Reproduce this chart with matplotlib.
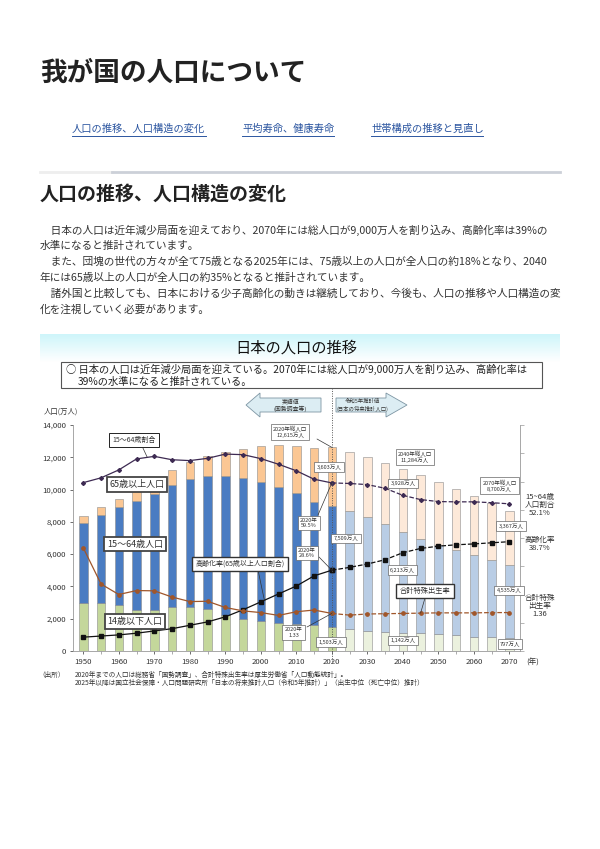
import matplotlib.pyplot as plt
from matplotlib.patches import Polygon, Rectangle
from matplotlib.lines import Line2D
import numpy as np

plt.rcParams['font.family'] = ['Noto Sans CJK JP', 'DejaVu Sans']

# --- data (万人, %, 合計特殊出生率) ---
years = [1950, 1955, 1960, 1965, 1970, 1975, 1980, 1985, 1990, 1995, 2000, 2005, 2010,
         2015, 2020, 2025, 2030, 2035, 2040, 2045, 2050, 2055, 2060, 2065, 2070]
pop_0_14 = [2979, 2980, 2843, 2553, 2515, 2722, 2751, 2603, 2249, 2001, 1847, 1752, 1680,
            1589, 1503, 1363, 1240, 1169, 1142, 1103, 1041, 966, 893, 840, 797]
pop_15_64 = [4966, 5473, 6047, 6744, 7212, 7581, 7883, 8251, 8590, 8716, 8622, 8409, 8103,
             7629, 7509, 7310, 7076, 6722, 6213, 5832, 5540, 5307, 5078, 4809, 4535]
pop_65 = [411, 475, 535, 624, 739, 887, 1065, 1247, 1489, 1826, 2204, 2576, 2925,
          3347, 3603, 3653, 3696, 3773, 3928, 3945, 3888, 3777, 3644, 3508, 3367]
ratio_15_64 = [59.6, 61.3, 64.1, 68.0, 68.9, 67.7, 67.4, 68.2, 69.7, 69.5, 68.1, 66.1, 63.8,
               60.8, 59.5, 59.3, 58.9, 57.6, 55.1, 53.6, 52.9, 52.8, 52.8, 52.5, 52.1]
aging_rate = [4.9, 5.3, 5.7, 6.3, 7.1, 7.9, 9.1, 10.3, 12.1, 14.6, 17.4, 20.2, 23.0,
              26.6, 28.6, 29.6, 30.8, 32.3, 34.8, 36.3, 37.1, 37.6, 37.9, 38.3, 38.7]
fertility = [3.65, 2.37, 2.00, 2.14, 2.13, 1.91, 1.75, 1.76, 1.54, 1.42, 1.36, 1.26, 1.39,
             1.45, 1.33, 1.27, 1.31, 1.32, 1.33, 1.34, 1.35, 1.35, 1.35, 1.36, 1.36]
last_actual = 2020

W, H = 600, 849


def fx(x):
    return x / W


def fy(y):
    return 1 - y / H


fig = plt.figure(figsize=(6, 8.49), dpi=100)


def ftext(x, y, s, size, **kw):
    kw.setdefault('color', '#333333')
    kw.setdefault('va', 'center')
    return fig.text(fx(x), fy(y), s, fontsize=size, **kw)


# --- page header ---
ftext(40, 73, '我が国の人口について', 19.2, weight='bold', color='#222222')
links = [('人口の推移、人口構造の変化', 72, 206), ('平均寿命、健康寿命', 242, 334),
         ('世帯構成の推移と見直し', 371, 483)]
for s, x0, x1 in links:
    ftext(x0, 129, s, 7.4, color='#2b55a0')
    fig.add_artist(Line2D([fx(x0), fx(x1)], [fy(135.5)] * 2, color='#2b55a0', lw=0.7))

fig.add_artist(Line2D([fx(40), fx(112)], [fy(172)] * 2, color='#eeeeee', lw=2))
fig.add_artist(Line2D([fx(112), fx(560)], [fy(172)] * 2, color='#ccd0d8', lw=2))
ftext(40, 194, '人口の推移、人口構造の変化', 13.7, weight='bold', color='#222222')

para = ['　日本の人口は近年減少局面を迎えており、2070年には総人口が9,000万人を割り込み、高齢化率は39%の',
        '水準になると推計されています。',
        '　また、団塊の世代の方々が全て75歳となる2025年には、75歳以上の人口が全人口の約18%となり、2040',
        '年には65歳以上の人口が全人口の約35%となると推計されています。',
        '　諸外国と比較しても、日本における少子高齢化の動きは継続しており、今後も、人口の推移や人口構造の変',
        '化を注視していく必要があります。']
for i, s in enumerate(para):
    ftext(40, 230 + i * 16, s, 7.7)

# --- chart banner ---
bax = fig.add_axes([fx(40), fy(362), 520 / W, 28 / H])
grad = np.linspace(0, 1, 60)[:, None]
top = np.array([0.80, 0.96, 0.98])
img = top[None, None, :] * (1 - grad[:, :, None]) + grad[:, :, None]
bax.imshow(img, aspect='auto', extent=[0, 1, 0, 1])
bax.axis('off')
ftext(296, 348, '日本の人口の推移', 11, ha='center', color='#111111')

fig.add_artist(Rectangle((fx(61), fy(388)), 481 / W, 26 / H, transform=fig.transFigure,
                         fc='white', ec='#555555', lw=0.8))
ftext(66, 369, '○ 日本の人口は近年減少局面を迎えている。2070年には総人口が9,000万人を割り込み、高齢化率は', 7.4,
      color='#222222')
ftext(78, 382, '39%の水準になると推計されている。', 7.4, color='#222222')

# --- chart ---
ax = fig.add_axes([fx(73), fy(651), (520 - 73) / W, (651 - 425) / H])
actual = [y <= last_actual for y in years]
c_green = ['#c4d79b' if a else '#ebf1de' for a in actual]
c_blue = ['#4a7cc2' if a else '#b9cde5' for a in actual]
c_orange = ['#fbc794' if a else '#fde9d9' for a in actual]
mid_bottom = [a for a in pop_0_14]
top_bottom = [a + b for a, b in zip(pop_0_14, pop_15_64)]
bw = 2.4
ax.bar(years, pop_0_14, bw, color=c_green, edgecolor='#8c8c8c', lw=0.4)
ax.bar(years, pop_15_64, bw, bottom=mid_bottom, color=c_blue, edgecolor='#8c8c8c', lw=0.4)
ax.bar(years, pop_65, bw, bottom=top_bottom, color=c_orange, edgecolor='#8c8c8c', lw=0.4)
ax.set_xlim(1947.1, 2073)
ax.set_ylim(0, 14000)
ax.set_yticks(range(0, 14001, 2000))
ax.set_yticklabels([f'{v:,}' for v in range(0, 14001, 2000)])
ax.set_xticks(range(1950, 2071, 10))
ax.set_xticks(years, minor=True)
ax.tick_params(labelsize=5.6, colors='#333333', length=2, width=0.5, pad=3)
ax.tick_params(which='minor', length=2, width=0.5, color='#888888')
for side in ['top', 'right']:
    ax.spines[side].set_visible(False)
for side in ['left', 'bottom']:
    ax.spines[side].set_color('#999999')
    ax.spines[side].set_linewidth(0.6)

ax2 = ax.twinx()
ax2.set_ylim(0, 80)
ax2.set_yticks(range(0, 81, 10))
ax2.set_yticklabels([])
ax2.tick_params(length=3, width=0.5, color='#999999')
for side in ['top', 'left', 'bottom']:
    ax2.spines[side].set_visible(False)
ax2.spines['right'].set_color('#999999')
ax2.spines['right'].set_linewidth(0.6)

ax3 = ax.twinx()
ax3.set_ylim(0, 8)
ax3.set_axis_off()

n = years.index(last_actual) + 1
ax2.plot(years[:n], ratio_15_64[:n], color='#3d2a52', lw=0.9, marker='D', ms=2)
ax2.plot(years[n - 1:], ratio_15_64[n - 1:], color='#3d2a52', lw=0.9, ls='--', marker='D', ms=2)
ax2.plot(years[:n], aging_rate[:n], color='#111111', lw=0.9, marker='s', ms=2.6)
ax2.plot(years[n - 1:], aging_rate[n - 1:], color='#111111', lw=0.9, ls='--', marker='s', ms=2.6)
ax3.plot(years[:n], fertility[:n], color='#a0562a', lw=0.9, marker='o', ms=2.4)
ax3.plot(years[n - 1:], fertility[n - 1:], color='#a0562a', lw=0.9, ls='--', marker='o', ms=2.4)

# 2020 divider and arrows
fig.add_artist(Line2D([fx(331.5)] * 2, [fy(388), fy(662)], color='#555555', lw=0.7, ls=(0, (1, 1.5))))
left_arrow = [(246, 405), (260, 393), (260, 398), (321, 398), (321, 412), (260, 412), (260, 417)]
right_arrow = [(336, 398), (386, 398), (386, 393), (407, 405), (386, 417), (386, 412), (336, 412)]
for pts in [left_arrow, right_arrow]:
    fig.add_artist(Polygon([(fx(x), fy(y)) for x, y in pts], closed=True, transform=fig.transFigure,
                           fc='#dcedf3', ec='#7d95a3', lw=0.6))
ftext(290, 401.5, '実績値', 4.2, ha='center')
ftext(290, 408.5, '(国勢調査等)', 4.2, ha='center')
ftext(362, 401.5, '令和5年推計値', 3.9, ha='center')
ftext(362, 408.5, '(日本の将来推計人口)', 3.9, ha='center')

ftext(44, 412, '人口(万人)', 5.3)
ftext(533, 663, '(年)', 5.5, ha='center')


def box(x, y, s, size, lw=0.5, pad=0.4, ec='#666666'):
    return ftext(x, y, s, size, ha='center', multialignment='center', linespacing=1.1,
                 bbox=dict(boxstyle=f'square,pad={pad}', fc='white', ec=ec, lw=lw))


def leader(src, target, tax):
    ax3.annotate('', xy=target, xycoords=tax.transData, xytext=(fx(src[0]), fy(src[1])),
                 textcoords='figure fraction',
                 arrowprops=dict(arrowstyle='-', color='#333333', lw=0.5, shrinkA=0, shrinkB=0))


# category labels
box(134, 440, '15～64歳割合', 5.0, lw=0.7, pad=0.5, ec='#222222')
box(137, 484.5, '65歳以上人口', 6.5, lw=1.3, pad=0.3, ec='#444444')
box(135, 544, '15～64歳人口', 6.5, lw=1.3, pad=0.3, ec='#444444')
box(135, 621.5, '14歳以下人口', 6.5, lw=1.3, pad=0.3, ec='#444444')
box(240, 564, '高齢化率(65歳以上人口割合)', 5.0, lw=1.0, pad=0.45, ec='#333333')
box(425, 591, '合計特殊出生率', 5.2, lw=1.0, pad=0.45, ec='#333333')
leader((142, 446), (1968, 68.6), ax2)
leader((258, 570), (2001, 18.0), ax2)
leader((425, 598), (2045, 1.34), ax3)

# value labels
box(290, 432, '2020年総人口\n12,615万人', 4.0, pad=0.4)
leader((317, 439), (2020, pop_0_14[14] + pop_15_64[14] + pop_65[14]), ax)
box(329, 467, '3,603万人', 4.0)
box(309, 523, '2020年\n59.5%', 4.0)
leader((318, 515), (2020, ratio_15_64[14]), ax2)
box(346, 538.5, '7,509万人', 4.0)
box(307, 553, '2020年\n28.6%', 4.0)
leader((319, 557), (2020, aging_rate[14]), ax2)
box(293.5, 632.5, '2020年\n1.33', 4.0)
leader((307, 627), (2020, fertility[14]), ax3)
box(331, 642, '1,503万人', 4.0)
box(415, 457, '2040年総人口\n11,284万人', 4.0)
box(403, 483.5, '3,928万人', 4.0)
box(402.5, 570, '6,213万人', 4.0)
box(403, 640.5, '1,142万人', 4.0)
box(499.5, 485.5, '2070年総人口\n8,700万人', 4.0)
box(511, 526, '3,367万人', 4.0)
box(509, 590.5, '4,535万人', 4.0)
box(510, 644, '797万人', 4.0)

ftext(540, 505, '15~64歳\n人口割合\n52.1%', 5.5, ha='center', multialignment='center', linespacing=1.05)
ftext(540, 544, '高齢化率\n38.7%', 5.5, ha='center', multialignment='center', linespacing=1.05)
ftext(540, 606, '合計特殊\n出生率\n1.36', 5.5, ha='center', multialignment='center', linespacing=1.05)

# source note
ftext(38, 675, '（出所）', 4.8)
ftext(75, 675, '2020年までの人口は総務省「国勢調査」、合計特殊出生率は厚生労働省「人口動態統計」。', 4.8)
ftext(75, 683, '2025年以降は国立社会保障・人口問題研究所「日本の将来推計人口（令和5年推計）」（出生中位（死亡中位）推計）', 4.8)

fig.savefig('out.png', dpi=100)
